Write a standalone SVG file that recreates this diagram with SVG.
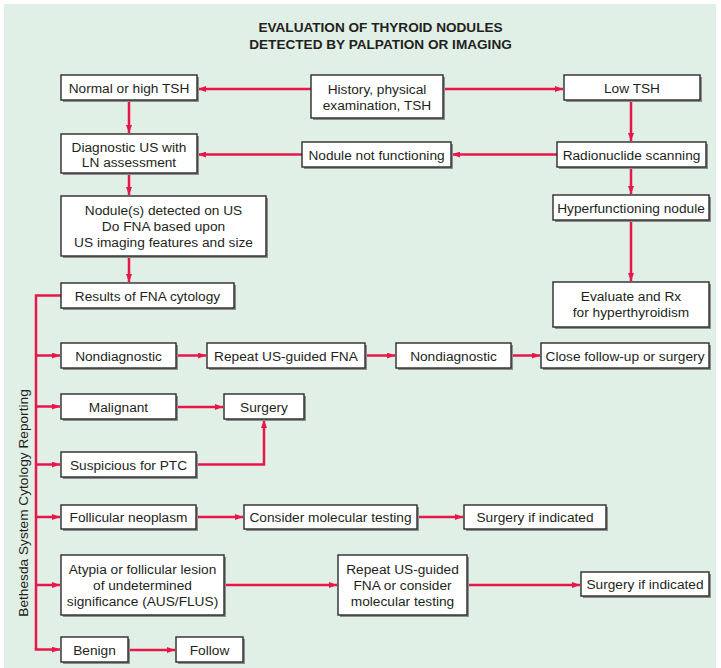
<svg xmlns="http://www.w3.org/2000/svg" width="721" height="668" viewBox="0 0 721 668">
<defs>
<style>
.bg{fill:#e1f0e6}
.sh{fill:#8e8e8e}
.bx{fill:#fff;stroke:#2b2b2b;stroke-width:1.4}
text{font-family:"Liberation Sans",Arial,sans-serif;font-size:13.7px;fill:#231f20}
.c{text-anchor:middle}
.t{font-weight:bold;font-size:13.6px}
.ln{fill:none;stroke:#e8174b;stroke-width:2.5}
.ar{marker-end:url(#ah)}
</style>
<marker id="ah" viewBox="0 0 8 6" refX="8" refY="3" markerWidth="8" markerHeight="6" markerUnits="userSpaceOnUse" orient="auto">
<path d="M0,0 L8,3 L0,6 Z" fill="#e8174b"/>
</marker>
</defs>
<rect width="721" height="668" fill="#fff"/>
<rect class="bg" x="4" y="4" width="712" height="664"/>
<g id="title">
<text class="c t" x="380.5" y="32">EVALUATION OF THYROID NODULES</text>
<text class="c t" x="380.5" y="49">DETECTED BY PALPATION OR IMAGING</text>
</g>
<text transform="translate(27.5,503) rotate(-90)" class="c">Bethesda System Cytology Reporting</text>
<g id="connectors">
<line class="ln ar" x1="311" y1="89" x2="198" y2="89"/>
<line class="ln ar" x1="443" y1="89" x2="563" y2="89"/>
<line class="ln ar" x1="631" y1="100" x2="631" y2="141"/>
<line class="ln ar" x1="557" y1="154.5" x2="452" y2="154.5"/>
<line class="ln ar" x1="302" y1="154.5" x2="198" y2="154.5"/>
<line class="ln ar" x1="129" y1="100" x2="129" y2="133"/>
<line class="ln ar" x1="129" y1="173" x2="129" y2="195"/>
<line class="ln ar" x1="631" y1="167" x2="631" y2="194"/>
<line class="ln ar" x1="631" y1="220" x2="631" y2="281"/>
<line class="ln ar" x1="129" y1="256" x2="129" y2="282"/>
<polyline class="ln" points="61,295.5 36,295.5 36,649.5"/>
<line class="ln ar" x1="36" y1="355.5" x2="60" y2="355.5"/>
<line class="ln ar" x1="36" y1="406.5" x2="60" y2="406.5"/>
<line class="ln ar" x1="36" y1="464.5" x2="60" y2="464.5"/>
<line class="ln ar" x1="36" y1="517" x2="60" y2="517"/>
<line class="ln ar" x1="36" y1="585" x2="60" y2="585"/>
<line class="ln ar" x1="34.75" y1="649.5" x2="60" y2="649.5"/>
<line class="ln ar" x1="176" y1="355.5" x2="206" y2="355.5"/>
<line class="ln ar" x1="365" y1="355.5" x2="395" y2="355.5"/>
<line class="ln ar" x1="511" y1="355.5" x2="540" y2="355.5"/>
<line class="ln ar" x1="176" y1="407" x2="223" y2="407"/>
<polyline class="ln ar" points="196,464.5 264,464.5 264,420"/>
<line class="ln ar" x1="196" y1="517" x2="243" y2="517"/>
<line class="ln ar" x1="417" y1="517" x2="463" y2="517"/>
<line class="ln ar" x1="224" y1="585" x2="337" y2="585"/>
<line class="ln ar" x1="467" y1="585" x2="580" y2="585"/>
<line class="ln ar" x1="128" y1="650" x2="175" y2="650"/>
</g>
<g id="n-normal"><rect class="sh" x="63" y="77" width="136" height="25"/><rect class="bx" x="61" y="75" width="136" height="25"/><text class="c" x="129" y="92.5">Normal or high TSH</text></g>
<g id="n-history"><rect class="sh" x="313" y="77" width="132" height="43"/><rect class="bx" x="311" y="75" width="132" height="43"/><text class="c" x="377" y="93.5">History, physical</text><text class="c" x="377" y="109.5">examination, TSH</text></g>
<g id="n-lowtsh"><rect class="sh" x="566" y="77" width="136" height="25"/><rect class="bx" x="564" y="75" width="136" height="25"/><text class="c" x="632" y="92.5">Low TSH</text></g>
<g id="n-diag"><rect class="sh" x="63" y="136" width="136" height="39"/><rect class="bx" x="61" y="134" width="136" height="39"/><text class="c" x="129" y="151.5">Diagnostic US with</text><text class="c" x="129" y="167">LN assessment</text></g>
<g id="n-notfunc"><rect class="sh" x="304" y="144" width="149" height="25"/><rect class="bx" x="302" y="142" width="149" height="25"/><text class="c" x="376.5" y="159.5">Nodule not functioning</text></g>
<g id="n-radio"><rect class="sh" x="559" y="144" width="149" height="25"/><rect class="bx" x="557" y="142" width="149" height="25"/><text class="c" x="631.5" y="159.5">Radionuclide scanning</text></g>
<g id="n-hyper"><rect class="sh" x="555" y="197" width="156" height="25"/><rect class="bx" x="553" y="195" width="156" height="25"/><text class="c" x="631" y="212.5">Hyperfunctioning nodule</text></g>
<g id="n-nodules"><rect class="sh" x="63" y="198" width="205" height="60"/><rect class="bx" x="61" y="196" width="205" height="60"/><text class="c" x="163.5" y="215">Nodule(s) detected on US</text><text class="c" x="163.5" y="231">Do FNA based upon</text><text class="c" x="163.5" y="247">US imaging features and size</text></g>
<g id="n-evaluate"><rect class="sh" x="555" y="284" width="156" height="45"/><rect class="bx" x="553" y="282" width="156" height="45"/><text class="c" x="631" y="301">Evaluate and Rx</text><text class="c" x="631" y="317">for hyperthyroidism</text></g>
<g id="n-results"><rect class="sh" x="63" y="285" width="173" height="25"/><rect class="bx" x="61" y="283" width="173" height="25"/><text class="c" x="147.5" y="300.5">Results of FNA cytology</text></g>
<g id="n-nondiag1"><rect class="sh" x="63" y="345" width="115" height="25"/><rect class="bx" x="61" y="343" width="115" height="25"/><text class="c" x="118.5" y="360.5">Nondiagnostic</text></g>
<g id="n-repeat"><rect class="sh" x="209" y="345" width="158" height="25"/><rect class="bx" x="207" y="343" width="158" height="25"/><text class="c" x="286" y="360.5">Repeat US-guided FNA</text></g>
<g id="n-nondiag2"><rect class="sh" x="398" y="345" width="115" height="25"/><rect class="bx" x="396" y="343" width="115" height="25"/><text class="c" x="453.5" y="360.5">Nondiagnostic</text></g>
<g id="n-close"><rect class="sh" x="543" y="345" width="168" height="25"/><rect class="bx" x="541" y="343" width="168" height="25"/><text class="c" x="625" y="360.5">Close follow-up or surgery</text></g>
<g id="n-malignant"><rect class="sh" x="63" y="396" width="115" height="25"/><rect class="bx" x="61" y="394" width="115" height="25"/><text class="c" x="118.5" y="411.5">Malignant</text></g>
<g id="n-surgery"><rect class="sh" x="226" y="396" width="80" height="25"/><rect class="bx" x="224" y="394" width="80" height="25"/><text class="c" x="264" y="411.5">Surgery</text></g>
<g id="n-suspicious"><rect class="sh" x="63" y="454" width="135" height="25"/><rect class="bx" x="61" y="452" width="135" height="25"/><text class="c" x="128.5" y="469.5">Suspicious for PTC</text></g>
<g id="n-follicular"><rect class="sh" x="63" y="507" width="135" height="24"/><rect class="bx" x="61" y="505" width="135" height="24"/><text class="c" x="128.5" y="522">Follicular neoplasm</text></g>
<g id="n-molecular"><rect class="sh" x="246" y="507" width="173" height="24"/><rect class="bx" x="244" y="505" width="173" height="24"/><text class="c" x="330.5" y="522">Consider molecular testing</text></g>
<g id="n-surgery-ind1"><rect class="sh" x="466" y="507" width="142" height="24"/><rect class="bx" x="464" y="505" width="142" height="24"/><text class="c" x="535" y="522">Surgery if indicated</text></g>
<g id="n-atypia"><rect class="sh" x="63" y="557" width="163" height="60"/><rect class="bx" x="61" y="555" width="163" height="60"/><text class="c" x="142.5" y="574">Atypia or follicular lesion</text><text class="c" x="142.5" y="590">of undetermined</text><text class="c" x="142.5" y="606">significance (AUS/FLUS)</text></g>
<g id="n-repeat2"><rect class="sh" x="340" y="557" width="129" height="60"/><rect class="bx" x="338" y="555" width="129" height="60"/><text class="c" x="402.5" y="574">Repeat US-guided</text><text class="c" x="402.5" y="590">FNA or consider</text><text class="c" x="402.5" y="606">molecular testing</text></g>
<g id="n-surgery-ind2"><rect class="sh" x="583" y="574" width="128" height="24"/><rect class="bx" x="581" y="572" width="128" height="24"/><text class="c" x="645" y="589">Surgery if indicated</text></g>
<g id="n-benign"><rect class="sh" x="63" y="639" width="67" height="25"/><rect class="bx" x="61" y="637" width="67" height="25"/><text class="c" x="94.5" y="654.5">Benign</text></g>
<g id="n-follow"><rect class="sh" x="178" y="639" width="67" height="25"/><rect class="bx" x="176" y="637" width="67" height="25"/><text class="c" x="209.5" y="654.5">Follow</text></g>
</svg>
